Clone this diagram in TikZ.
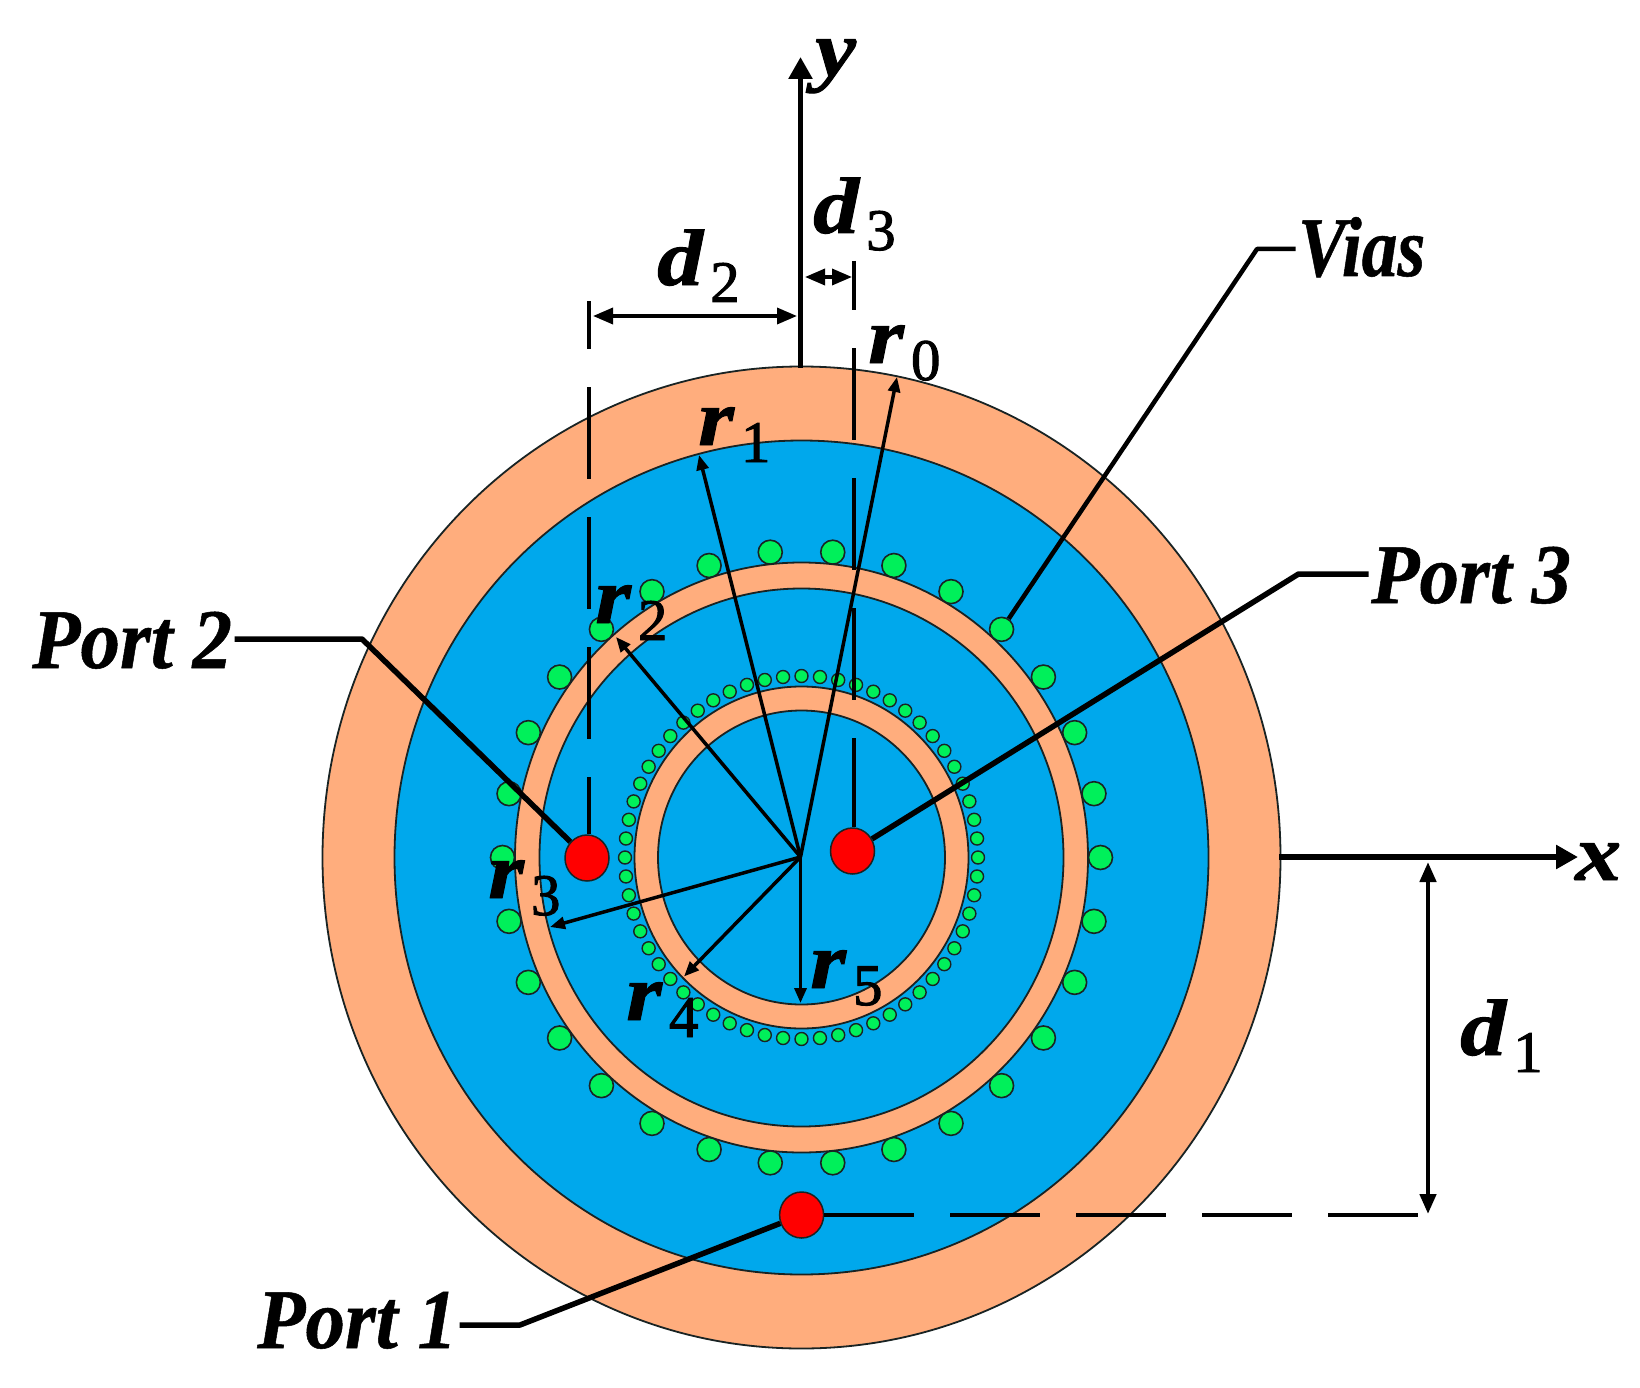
\documentclass[tikz,border=0pt]{standalone}
\usepackage{fontspec}
\usepackage{graphicx}
\usetikzlibrary{arrows.meta,shapes.geometric}
\setmainfont{Liberation Serif}
\newfontfamily\lblf[FakeStretch=1.15,FakeBold=1.2]{Liberation Serif}
\newfontfamily\subf[FakeBold=1.6]{Liberation Serif}
\newfontfamily\portf[FakeStretch=0.93,FakeBold=0.6]{Liberation Serif}
\newfontfamily\viaf[FakeStretch=0.84,FakeBold=0.6]{Liberation Serif}
\newcommand{\symlab}[2]{{\lblf\bfseries\itshape\fontsize{80}{80}\selectfont #1}\kern7pt\raisebox{-17pt}{\subf\fontsize{59}{59}\selectfont #2}}
\definecolor{peach}{RGB}{255,173,125}
\definecolor{subblue}{RGB}{0,168,236}
\definecolor{viagreen}{RGB}{0,240,90}
\definecolor{outl}{RGB}{25,35,35}
\tikzset{
  plate/.style={draw=outl,line width=1.8pt},
  viabig/.style={circle,draw=outl,fill=viagreen,line width=1.6pt,minimum size=24pt,inner sep=0pt},
  viasmall/.style={circle,draw=outl,fill=viagreen,line width=1.4pt,minimum size=13pt,inner sep=0pt},
  portdot/.style={ellipse,draw=outl,fill=red,line width=1.5pt,minimum width=44pt,minimum height=46pt,inner sep=0pt},
  leader/.style={line width=5.5pt,line join=round},
  axisline/.style={line width=5.5pt,-{Triangle[length=22pt,width=23pt]}},
  dimline/.style={line width=3.5pt,{Triangle[length=20pt,width=16pt]}-{Triangle[length=20pt,width=16pt]}},
  radius/.style={line width=3.5pt,-{Triangle[length=15pt,width=12pt]}},
  dashguide/.style={line width=3.5pt,dash pattern=on 92pt off 38pt},
  symb/.style={anchor=base west,inner sep=0pt},
  portlabel/.style={anchor=base west,inner sep=2.5pt,font=\portf\bfseries\itshape\fontsize{85}{85}\selectfont},
  axlabel/.style={anchor=base west,inner sep=0pt,font=\lblf\bfseries\itshape\fontsize{80}{80}\selectfont}
}
\begin{document}
\begin{tikzpicture}[x=1pt,y=-1pt]
\fill[white] (0,0) rectangle (1640,1388);
\useasboundingbox (0,0) rectangle (1640,1388);
\coordinate (c) at (801.5,857.5);
% substrate
\draw[plate,fill=peach] (c) ellipse [x radius=479,y radius=491];
\draw[plate,fill=subblue] (c) ellipse [x radius=407,y radius=417];
% outer vias, partly under the ring
\foreach \a in {0,12,...,348}
  \node[viabig] (v\a) at ({801.5+299*cos(\a)},{857.5-307*sin(\a)}) {};
% rings
\draw[plate,fill=peach] (c) ellipse [x radius=286.5,y radius=295];
\draw[plate,fill=subblue] (c) ellipse [x radius=262,y radius=269];
% inner vias
\foreach \a in {0,6,...,354}
  \node[viasmall] (s\a) at ({801.5+176.5*cos(\a)},{857.5-181.5*sin(\a)}) {};
\draw[plate,fill=peach] (c) ellipse [x radius=167,y radius=171];
\draw[plate,fill=subblue] (c) ellipse [x radius=143.5,y radius=147];
% ports
\node[portdot] (port1) at (801.6,1215) {};
\node[portdot] (port2) at (587,858) {};
\node[portdot] (port3) at (852.5,851) {};
% free coordinates
\coordinate (o) at (800.5,857);
\coordinate (ytop) at (800.5,57);
\coordinate (ybot) at (800.5,368);
\coordinate (xleft) at (1279,857);
\coordinate (xright) at (1578,857);
\coordinate (tip0) at (897,377);
\coordinate (tip1) at (699,455);
\coordinate (tip2) at (616,637);
\coordinate (tip3) at (550,927);
\coordinate (tip4) at (684,976.5);
\coordinate (tip5) at (800.5,1003);
\coordinate (d2top) at (589,301);
\coordinate (d3top) at (854,261);
\coordinate (d2l) at (593,316);
\coordinate (d2r) at (797,316);
\coordinate (d3l) at (805,277);
\coordinate (d3r) at (852,277);
\coordinate (d1t) at (1428,862);
\coordinate (d1b) at (1428,1214);
\coordinate (d1end) at (1423,1215);
\coordinate (bend1) at (520,1325);
\coordinate (bend2) at (362,639);
\coordinate (bend3) at (1298.5,574);
\coordinate (bendv) at (1257,249);
% axes
\draw[axisline] (ybot) -- (ytop);
\draw[axisline,line width=6.5pt] (xleft) -- (xright);
% dashed guides
\draw[dashguide,dash phase=44pt] (d2top) -- (d2top |- port2.north);
\draw[dashguide,dash phase=43pt] (d3top) -- (d3top |- port3.north);
\draw[line width=3.5pt,dash pattern=on 90pt off 36pt] (port1.east) -- (d1end);
% dimension arrows
\draw[dimline] (d2l) -- (d2r);
\draw[dimline] (d3l) -- (d3r);
\draw[dimline,line width=4.5pt] (d1t) -- (d1b);
% radii
\foreach \t in {0,...,5} \draw[radius] (o) -- (tip\t);
% labels
\node[portlabel] (lp1) at (254.5,1348) {Port 1};
\node[portlabel] (lp2) at (29.5,668) {Port 2};
\node[portlabel] (lp3) at (1368.5,603) {Port 3};
\node[anchor=base west,inner sep=2.5pt,font=\viaf\bfseries\itshape\fontsize{85}{85}\selectfont] (lv) at (1295.5,276) {Vias};
% leaders
\draw[leader] (lp1.east |- bend1) -- (bend1) -- (port1);
\draw[leader] (lp2.east |- bend2) -- (bend2) -- (port2);
\draw[leader] (lp3.west |- bend3) -- (bend3) -- (port3);
\draw[leader,line width=4.5pt] (lv.west |- bendv) -- (bendv) -- (v48);
% symbols
\node[axlabel] (ly) at (815,76) {y};
\node[axlabel] (lx) at (1575,880) {x};
\node[symb] (lr0) at (868,363) {\symlab{r}{0}};
\node[symb] (lr1) at (698,445) {\symlab{r}{1}};
\node[symb] (lr2) at (595,623) {\symlab{r}{2}};
\node[symb] (lr3) at (488,898) {\symlab{r}{3}};
\node[symb] (lr4) at (626,1020) {\symlab{r}{4}};
\node[symb] (lr5) at (810,988) {\symlab{r}{5}};
\node[symb] (ld1) at (1460,1055) {\symlab{d}{1}};
\node[symb] (ld2) at (657,285) {\symlab{d}{2}};
\node[symb] (ld3) at (813,233) {\symlab{d}{3}};
\end{tikzpicture}
\end{document}
